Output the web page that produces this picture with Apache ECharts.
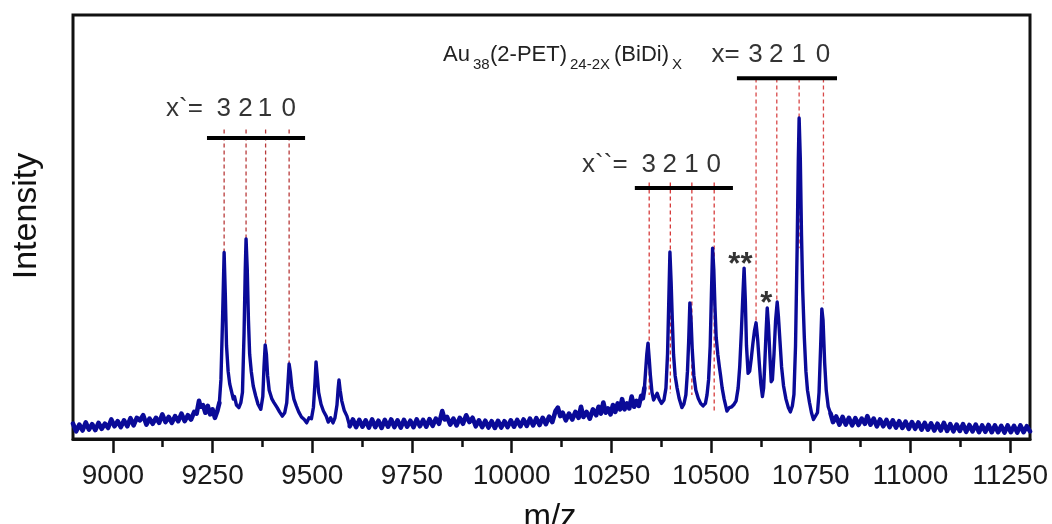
<!DOCTYPE html>
<html><head><meta charset="utf-8">
<script src="https://cdn.jsdelivr.net/npm/echarts@6/dist/echarts.min.js"></script>
<style>html,body{margin:0;padding:0;background:#fff}#c{width:1052px;height:524px}</style>
</head><body><div id="c"></div><script>
// ---- spectrum segments: [m/z, intensity (0-100 a.u.)] ----
const baselineLeft = [
[8900,3.6],[8908,1.8],[8916,3.4],[8924,2.0],[8932,3.9],[8940,2.2],[8948,3.5],[8956,2.1],[8964,3.8],[8972,2.4],
[8980,3.6],[8988,2.6],[8996,4.6],[9004,3.0],[9012,4.2],[9020,2.8],[9028,4.4],[9036,3.0],[9044,4.9],[9052,3.2],
[9060,5.0],[9068,4.4],[9076,5.6],[9084,3.4],[9092,4.8],[9100,3.6],[9108,5.0],[9116,3.8],[9124,5.8],[9132,4.0],
[9140,5.2],[9148,3.8],[9156,5.4],[9164,4.2],[9172,6.0],[9180,4.2],[9188,5.6],[9196,4.6],[9204,6.4],[9210,6.0],
[9216,9.0],[9220,7.6],[9226,8.0],[9232,6.2],[9238,7.8],[9244,5.8],[9250,7.0],[9256,5.0],[9262,6.6]];
const peaksLeft = [
[9267,8.5],[9271,14],[9275,28],[9279,44],[9282,34],[9285,22],[9289,16],[9293,13],[9296,11.8],[9302,9.4],
[9305,10.0],[9310,8.0],[9316,7.4],[9321,8.6],[9325,11],[9329,25],[9332,40],[9334,47.2],[9337,40],[9340,28],
[9343,20],[9347,16],[9352,12.5],[9358,10.2],[9364,8.2],[9371,7.0],[9376,10],[9379,17],[9382,22.2],[9385,20],
[9388,15],[9392,11.5],[9399,9.4],[9404,8.6],[9407,9.0],[9412,7.4],[9418,6.4],[9425,5.4],[9431,6.2],[9436,8.5],
[9439,13],[9442,17.7],[9445,15.8],[9449,12],[9454,9.4],[9460,7.8],[9466,6.4],[9473,5.2],[9480,4.6],[9486,3.8],
[9492,5.0],[9498,4.8],[9503,7.5],[9507,13.5],[9509.5,18.2],[9512,15.5],[9516,11],[9522,8.2],[9528,6.6],[9535,5.4],
[9540,4.0],[9546,5.0],[9552,3.8],[9557,5.0],[9562,8],[9565,12],[9567,13.9],[9570,11.5],[9574,9],[9580,6.8],[9587,5.4]];
const baselineMid = [
[9594,3.0],[9602,4.6],[9610,2.8],[9618,4.5],[9626,2.9],[9634,4.4],[9642,2.7],[9650,4.6],[9658,2.8],[9666,4.3],
[9674,2.6],[9682,4.5],[9690,2.9],[9698,4.6],[9706,2.8],[9714,4.4],[9722,2.7],[9730,4.5],[9738,2.9],[9746,4.3],
[9754,2.8],[9762,4.6],[9770,3.0],[9778,4.5],[9786,2.9],[9794,4.7],[9802,3.1],[9810,4.8],[9818,3.6],[9826,6.6],
[9832,4.6],[9838,5.2],[9846,3.4],[9854,4.8],[9862,3.2],[9870,5.0],[9878,3.6],[9886,5.6],[9894,4.0],[9902,5.0],
[9910,3.0],[9918,4.4],[9926,2.8],[9934,4.3],[9942,2.7],[9950,4.2],[9958,2.6],[9966,4.3],[9974,2.7],[9982,4.2],
[9990,2.8],[9998,4.4],[10006,2.9],[10014,4.5],[10022,3.0],[10030,4.6],[10038,3.1],[10046,4.8],[10054,3.2],[10062,4.9],
[10070,3.3],[10078,5.0],[10086,3.5],[10094,5.3],[10102,4.0],[10110,6.6],[10116,7.4],[10122,5.4],[10128,6.2],[10136,4.4],
[10144,6.0],[10152,4.6],[10160,6.4],[10168,5.0],[10174,7.6],[10180,5.2],[10188,6.4],[10196,4.8],[10204,7.0],[10212,5.6],
[10218,7.6],[10224,6.0],[10230,8.6],[10236,6.2],[10242,7.2],[10248,5.8],[10254,8.0],[10260,6.4],[10266,8.4],[10272,7.0],
[10277,9.4],[10283,7.0],[10289,8.4],[10295,7.2],[10301,10.0],[10307,7.6],[10313,9.0],[10319,7.8],[10325,10.2],[10329,9.6]];
const peaksRight = [
[10333,12],[10336,16],[10339,20],[10342,22.6],[10345,19],[10348,15],[10352,11],[10356,9.2],[10360,9.6],[10365,10.8],
[10370,9.4],[10376,8.4],[10382,9.2],[10387,12],[10391,20],[10394,32],[10397,44.1],[10400,37],[10403,28],[10406,20],
[10410,15],[10415,12],[10420,9.6],[10427,7.4],[10432,8.2],[10437,10.4],[10441,16],[10444,23],[10447,32.1],[10450,28],
[10453,21],[10457,15],[10462,11.5],[10468,9.6],[10474,8.4],[10480,7.8],[10486,8.4],[10490,10.4],[10494,14],[10498,22],
[10501,34],[10504,45],[10507,40],[10510,31],[10513,24],[10517,20],[10521,17],[10524,15],[10528,12],[10533,9.4],
[10540,6.6],[10546,7.4],[10552,7.6],[10558,8.2],[10563,9.0],[10568,12],[10572,17],[10576,25],[10580,34],[10583,40.3],
[10586,33],[10589,22],[10593,15.5],[10597,16],[10601,19],[10605,22.5],[10609,25.5],[10613,27.4],[10617,23.5],[10621,18],
[10625,13],[10629,10],[10632,12],[10635,18],[10638,25],[10641,30.9],[10644,27],[10648,19],[10651,13.5],[10654,14],
[10658,20],[10662,28],[10666,32.3],[10669,29],[10673,23],[10677,17],[10682,12.5],[10688,9.4],[10694,7.4],[10699,6.4],
[10704,7.8],[10708,10.5],[10712,22],[10716,45],[10719,66],[10721,75.7],[10724,66],[10727,48],[10730,35],[10734,24],
[10738,16],[10742,11.5],[10747,8.6],[10752,6.2],[10757,4.6],[10762,4.8],[10767,6.2],[10771,11],[10775,22],[10778,30.7],
[10781,28],[10785,18],[10789,11.5],[10794,7.6]];
const baselineRight = [
[10800,6.0],[10806,4.0],[10814,5.3],[10822,3.4],[10830,5.2],[10838,3.4],[10846,5.0],[10854,3.2],[10862,4.9],[10870,3.3],
[10878,4.8],[10886,3.6],[10892,5.4],[10900,3.4],[10908,4.8],[10916,3.0],[10924,4.6],[10932,3.0],[10940,4.5],[10948,2.8],
[10956,4.4],[10964,2.7],[10972,4.2],[10980,2.6],[10988,4.1],[10996,2.4],[11004,4.0],[11012,2.4],[11020,3.9],[11028,2.2],
[11036,3.8],[11044,2.2],[11052,3.7],[11060,2.0],[11068,3.6],[11076,2.0],[11084,3.8],[11092,1.9],[11100,3.5],[11108,1.8],
[11116,3.4],[11124,1.9],[11132,3.5],[11140,1.7],[11148,3.3],[11156,1.8],[11164,3.4],[11172,1.6],[11180,3.2],[11188,1.7],
[11196,3.3],[11204,1.6],[11212,3.2],[11220,1.6],[11228,3.1],[11236,1.5],[11244,3.2],[11252,1.6],[11260,3.1],[11268,1.5],
[11276,3.2],[11284,1.6],[11292,3.0],[11300,1.8]];

// ---- axis ticks ----
const majorTicks = [9000,9250,9500,9750,10000,10250,10500,10750,11000,11250];
const minorTicks = [9125,9375,9625,9875,10125,10375,10625,10875,11125];

// ---- assignment guides (dashed lines: m/z, lower end; shared top level) ----
const guideMzA = [9279,9334,9383,9442];      // x`
const guideEndA = [44,47.2,22.2,17.7];
const guideTopA = 73;
const guideMzB = [10345,10398,10452,10508];  // x``
const guideEndB = [10.4,10.8,10.4,6.4];
const guideTopB = 60.5;
const guideMzC = [10613,10665,10721,10782];  // x
const guideEndC = [27.5,32.5,45,32];
const guideTopC = 85;
// bars [mzStart, mzEnd, level]
const barA = [9236,9482,71.0];
const barB = [10309,10555,59.2];
const barC = [10565,10816,85.1];

// ---- annotation texts ----
const annoText = ['x`=','3','2','1','0','x``=','3','2','1','0','x=','3','2','1','0','**','*'];
const annoMz  = [9227,9279,9334,9383,9442,10292,10345,10398,10452,10508,10573,10613,10665,10721,10782,10575,10640];
const annoVal = [77.8,77.8,77.8,77.8,77.8,64.6,64.6,64.6,64.6,64.6,90.6,90.6,90.6,90.6,90.6,40.8,31.6];

const FONT = '"Liberation Sans", Arial, Helvetica, sans-serif';
const chart = echarts.init(document.getElementById('c'), null, {renderer:'canvas'});

const series = [];
// baseline stretches drawn as a heavier noise band, peak clusters a bit finer
[[baselineLeft,4.6],[peaksLeft,3.4],[baselineMid,4.6],[peaksRight,3.4],[baselineRight,4.6]].forEach((seg,k,all)=>{
  const d = seg[0].slice();
  if (k < all.length-1) d.push(all[k+1][0][0]);   // join to next stretch
  series.push({type:'line', data:d, showSymbol:false, symbol:'none', z:5, silent:true,
    lineStyle:{color:'#0a0a98', width:seg[1], join:'round', cap:'round'}});
});
function addGuides(ms, ends, top, color){
  ms.forEach((m,i)=>series.push({type:'line', data:[[m,top],[m,ends[i]]], symbol:'none', silent:true, z:3,
    lineStyle:{color:color, width:1.3, type:[4,3]}}));
}
addGuides(guideMzA, guideEndA, guideTopA, '#b83a3a');
addGuides(guideMzB, guideEndB, guideTopB, '#d63b3b');
addGuides(guideMzC, guideEndC, guideTopC, '#d84848');
[barA,barB,barC].forEach(b=>series.push({type:'line', data:[[b[0],b[2]],[b[1],b[2]]], symbol:'none', silent:true, z:6,
  lineStyle:{color:'#000', width:4, cap:'butt'}}));

const annoAlign = annoText.map(t=> t.indexOf('=')>=0 ? 'right' : 'center');
const annoSize = annoText.map(t=> t.indexOf('*')>=0 ? 31 : 26);
const annoWeight = annoText.map(t=> t.indexOf('*')>=0 ? 'bold' : 'normal');
series.push({type:'scatter', symbolSize:1, silent:true, z:7, itemStyle:{color:'rgba(0,0,0,0)'},
  data: annoText.map((t,i)=>({value:[annoMz[i],annoVal[i]], label:{show:true, position:[0,0], formatter:t,
    align:annoAlign[i], verticalAlign:'middle', fontSize:annoSize[i], fontWeight:annoWeight[i], color:'#000', fontFamily:FONT}}))});

chart.setOption({
  animation:false,
  backgroundColor:'#fff',
  grid:{left:73, right:22, top:15, bottom:85, show:true, borderColor:'#111', borderWidth:3, backgroundColor:'transparent'},
  xAxis:[{
    type:'value', min:8900, max:11300, position:'bottom',
    axisLine:{show:true, lineStyle:{color:'#111', width:3}},
    axisTick:{show:true, customValues:majorTicks, length:14, inside:false, lineStyle:{color:'#111', width:2.5}},
    axisLabel:{show:true, customValues:majorTicks, margin:23, fontSize:28, color:'#1a1a1a', fontFamily:FONT,
      formatter:v=>String(v)},
    splitLine:{show:false}
  },{
    type:'value', min:8900, max:11300, position:'bottom', offset:0,
    axisLine:{show:false},
    axisTick:{show:true, customValues:minorTicks, length:8, inside:false, lineStyle:{color:'#111', width:2.5}},
    axisLabel:{show:false},
    splitLine:{show:false}
  }],
  yAxis:{type:'value', min:0, max:100, axisLine:{show:false}, axisTick:{show:false}, axisLabel:{show:false}, splitLine:{show:false}},
  series: series,
  graphic:[
    {type:'text', x:27, y:216, rotation:Math.PI/2, style:{text:'Intensity', font:'34px '+FONT, fill:'#111', align:'center', verticalAlign:'middle'}},
    {type:'text', x:550, y:518, style:{text:'m/z', font:'33px '+FONT, fill:'#111', align:'center', verticalAlign:'middle'}},
    {type:'text', x:443, y:55, style:{text:'Au', font:'22px '+FONT, fill:'#222', align:'left', verticalAlign:'middle'}},
    {type:'text', x:473, y:65, style:{text:'38', font:'15px '+FONT, fill:'#222', align:'left', verticalAlign:'middle'}},
    {type:'text', x:490, y:55, style:{text:'(2-PET)', font:'22px '+FONT, fill:'#222', align:'left', verticalAlign:'middle'}},
    {type:'text', x:570, y:65, style:{text:'24-2X', font:'15px '+FONT, fill:'#222', align:'left', verticalAlign:'middle'}},
    {type:'text', x:614, y:55, style:{text:'(BiDi)', font:'22px '+FONT, fill:'#222', align:'left', verticalAlign:'middle'}},
    {type:'text', x:672, y:65, style:{text:'X', font:'15px '+FONT, fill:'#222', align:'left', verticalAlign:'middle'}}
  ]
});
</script></body></html>
